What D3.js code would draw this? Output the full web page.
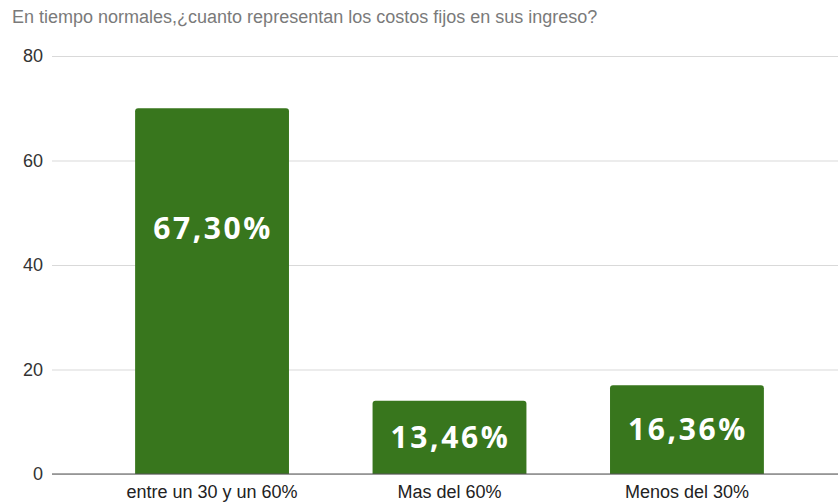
<!DOCTYPE html>
<html>
<head>
<meta charset="utf-8">
<script src="https://cdn.jsdelivr.net/npm/d3@7"></script>
<style>
	body { margin: 0; background: #fff; }
	text { font-family: Arial, "Liberation Sans", sans-serif; }
</style>
</head>
<body>
<svg id="chart" width="838" height="502"></svg>
<script>
var categories = ["entre un 30 y un 60%", "Mas del 60%", "Menos del 30%"];
var counts = [70, 14, 17];
var percentLabels = ["67,30%", "13,46%", "16,36%"];
var yTicks = [0, 20, 40, 60, 80];
var title = "En tiempo normales,\u00bfcuanto representan los costos fijos en sus ingreso?";

var svg = d3.select("#chart"),
	margin = {top: 56, left: 52, bottom: 28, right: 0},
	width = +svg.attr("width"),
	height = +svg.attr("height");

var data = categories.map((c, i) => ({cat: c, value: counts[i], label: percentLabels[i]}));

var x = d3.scaleBand()
	.domain(categories)
	.range([margin.left, 847])
	.paddingInner(0.352)
	.paddingOuter(0.35);

var y = d3.scaleLinear()
	.domain([0, 80])
	.range([height - margin.bottom, margin.top]);

svg.append("text")
	.attr("x", 12)
	.attr("y", 23)
	.attr("fill", "#7a7a7a")
	.style("font-size", "18px")
	.text(title);

// gridlines + y labels
var yAxis = svg.append("g")
	.attr("transform", `translate(${margin.left},0)`)
	.call(d3.axisLeft(y).tickValues(yTicks).tickSize(-(width - margin.left)).tickPadding(9));
yAxis.select(".domain").remove();
yAxis.selectAll(".tick line").attr("stroke", "#d9d9d9");
yAxis.selectAll(".tick text")
	.attr("fill", "#333")
	.style("font-size", "18px");

svg.selectAll("path.bar")
	.data(data)
	.enter().append("path")
	.attr("class", "bar")
	.attr("fill", "#38761d")
	.attr("d", d => {
		var x0 = x(d.cat), x1 = x0 + x.bandwidth(), y0 = y(0), y1 = y(d.value), r = 3;
		return `M${x0},${y0}V${y1 + r}Q${x0},${y1} ${x0 + r},${y1}H${x1 - r}Q${x1},${y1} ${x1},${y1 + r}V${y0}Z`;
	});

// baseline
svg.append("line")
	.attr("x1", margin.left).attr("x2", width)
	.attr("y1", y(0)).attr("y2", y(0))
	.attr("stroke", "#555").attr("stroke-width", 1.2);

svg.selectAll("text.val")
	.data(data)
	.enter().append("text")
	.attr("class", "val")
	.attr("x", d => x(d.cat) + x.bandwidth() / 2 + 1)
	.attr("y", d => Math.min((y(d.value) + y(0)) / 2, y(d.value) + 120))
	.attr("dy", "0.36em")
	.attr("text-anchor", "middle")
	.attr("fill", "#fff")
	.style("font-family", "'Open Sans', 'Noto Sans', sans-serif")
	.style("font-weight", "bold")
	.style("font-size", "30px")
	.style("letter-spacing", "2.6px")
	.text(d => d.label);

svg.selectAll("text.cat")
	.data(data)
	.enter().append("text")
	.attr("class", "cat")
	.attr("x", d => x(d.cat) + x.bandwidth() / 2)
	.attr("y", 498)
	.attr("text-anchor", "middle")
	.attr("fill", "#222")
	.style("font-size", "18px")
	.text(d => d.cat);
</script>
</body>
</html>
